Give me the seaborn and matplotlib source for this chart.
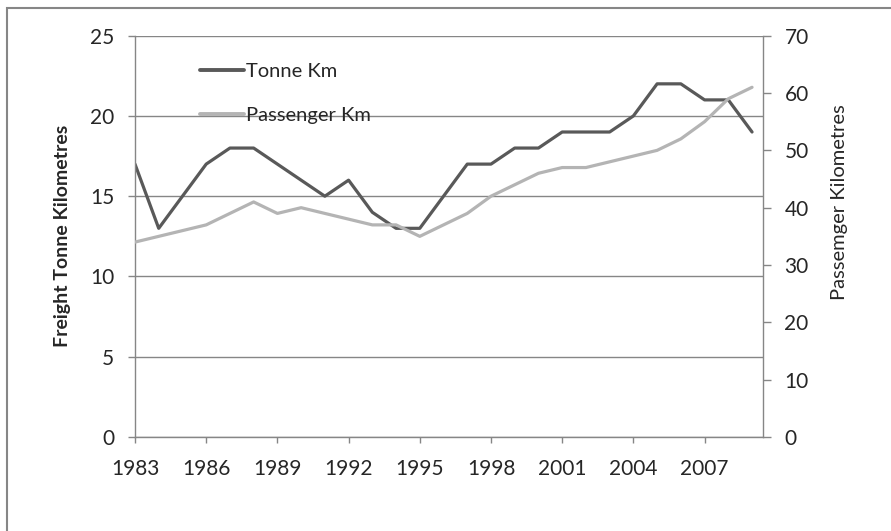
import numpy as np
import pandas as pd
import matplotlib
matplotlib.use("Agg")
import matplotlib.pyplot as plt
import seaborn as sns
from matplotlib.patches import Rectangle
from matplotlib.lines import Line2D

# data
years = list(range(1983, 2010))
tonne_km = [17, 13, 15, 17, 18, 18, 17, 16, 15, 16, 14, 13, 13, 15,
            17, 17, 18, 18, 19, 19, 19, 20, 22, 22, 21, 21, 19]
passenger_km = [34, 35, 36, 37, 39, 41, 39, 40, 39, 38, 37, 37, 35, 37,
                39, 42, 44, 46, 47, 47, 48, 49, 50, 52, 55, 59, 61]
x_ticks = list(range(1983, 2008, 3))
left_ticks = [0, 5, 10, 15, 20, 25]
right_ticks = [0, 10, 20, 30, 40, 50, 60, 70]

df = pd.DataFrame({"year": years, "tonne": tonne_km, "passenger": passenger_km})

sns.set_style("white")
plt.rcParams["font.family"] = ["Lato", "DejaVu Sans"]

AXIS_GREY = "#868686"
TEXT = "#262626"
DARK = "#595959"
LIGHT = "#b4b4b4"

fig = plt.figure(figsize=(8.91, 5.31), dpi=100)
ax = fig.add_axes([0.1515, 0.177, 0.7048, 0.7558])
ax2 = ax.twinx()

sns.lineplot(data=df, x="year", y="tonne", ax=ax, color=DARK, lw=2.3, legend=False)
sns.lineplot(data=df, x="year", y="passenger", ax=ax2, color=LIGHT, lw=2.3, legend=False)

ax.set_xlim(1983, 2009.46)
ax.set_ylim(0, 25)
ax2.set_ylim(0, 70)
ax.set_xticks(x_ticks)
ax.set_yticks(left_ticks)
ax2.set_yticks(right_ticks)

ax.yaxis.grid(True, color=AXIS_GREY, lw=1)
ax.set_axisbelow(True)

for a in (ax, ax2):
    a.spines["top"].set_visible(False)
    for side in ("left", "right", "bottom"):
        a.spines[side].set_color(AXIS_GREY)
        a.spines[side].set_linewidth(1)
ax2.spines["left"].set_visible(False)
ax2.spines["bottom"].set_visible(False)
ax.spines["right"].set_visible(False)

ax.tick_params(axis="x", direction="out", length=4.5, width=1, color=AXIS_GREY,
               pad=11, labelsize=15, labelcolor=TEXT, bottom=True)
ax.tick_params(axis="y", direction="out", length=5, width=1, color=AXIS_GREY,
               pad=10, labelsize=15, labelcolor=TEXT, left=True)
ax2.tick_params(axis="y", direction="out", length=5.5, width=1, color=AXIS_GREY,
                pad=10, labelsize=15, labelcolor=TEXT, right=True)

ax.set_xlabel("")
ax.set_ylabel("Freight Tonne Kilometres", fontsize=14, fontweight="bold", color=TEXT)
ax.yaxis.set_label_coords(-0.102, 0.5)
ax2.set_ylabel("Passemger Kilometres", fontsize=14.5, color=TEXT)
ax2.yaxis.set_label_coords(1.108, 0.585)

handles = [Line2D([], [], color=DARK, lw=2.8), Line2D([], [], color=LIGHT, lw=2.8)]
leg = ax.legend(handles, ["Tonne Km", "Passenger Km"], loc="upper left",
                bbox_to_anchor=(0.1035, 0.933), frameon=False, fontsize=14.5,
                handlelength=2.2, handletextpad=0.1, labelspacing=1.35,
                borderpad=0, borderaxespad=0)
for t in leg.get_texts():
    t.set_color(TEXT)

# chart area border (only left and top edges fall inside the image)
fig.patches.append(Rectangle((0.0079, -0.2), 1.5, 1.184, transform=fig.transFigure,
                             fill=False, edgecolor=AXIS_GREY, lw=1.5))

fig.savefig("out.png", dpi=100)
